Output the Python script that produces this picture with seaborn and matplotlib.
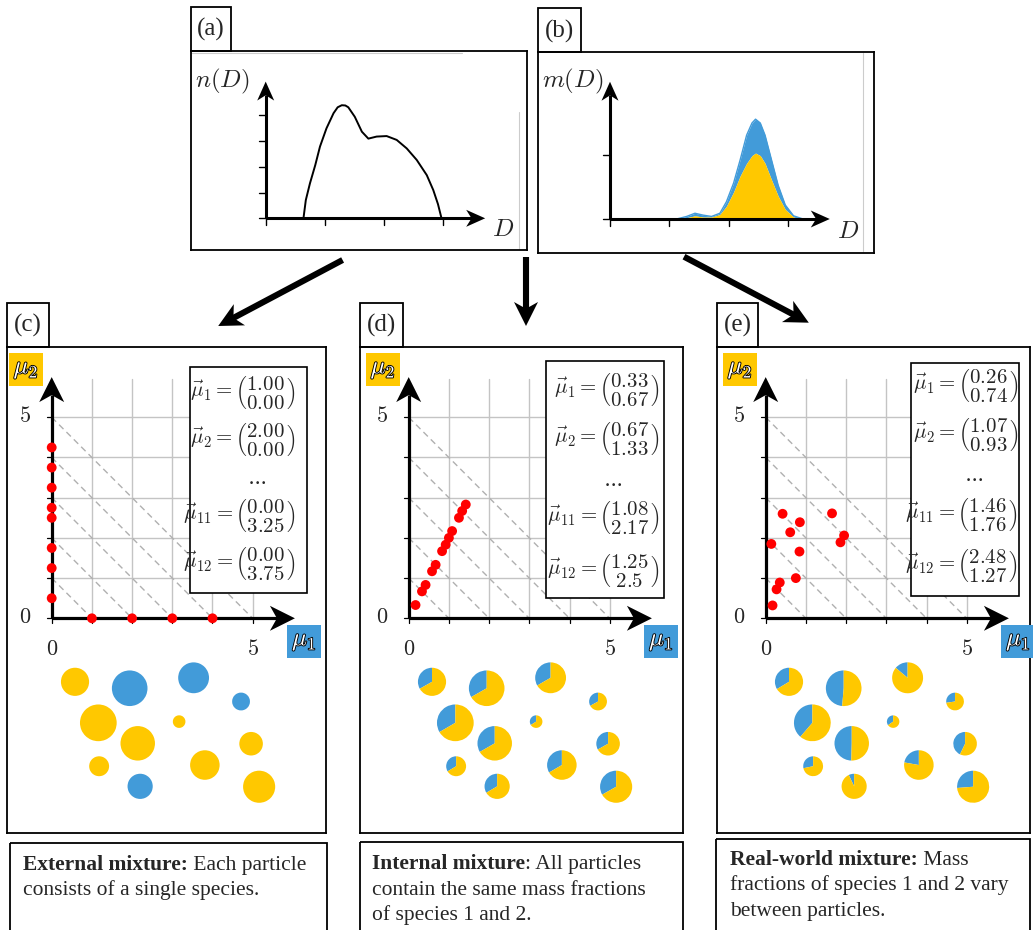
import numpy as np
import matplotlib
matplotlib.use("Agg")
import matplotlib.pyplot as plt
import matplotlib.patheffects as pe
from matplotlib.patches import Rectangle, Polygon, Wedge
import seaborn as sns

sns.set_theme(style="white")
plt.rcParams['font.family'] = ['Liberation Serif', 'DejaVu Serif']
plt.rcParams['mathtext.fontset'] = 'cm'

BLUE = '#429BD9'
YELLOW = '#FFC800'
W, H = 1033, 930

############################################################## Data

# (a) number distribution n(D)
nd_D = [0.64, 0.68, 0.75, 0.84, 0.92, 1.03, 1.15, 1.22, 1.29, 1.35, 1.40, 1.51, 1.63, 1.74,
        1.88, 2.05, 2.22, 2.39, 2.56, 2.73, 2.84, 2.92, 2.98]
nd_n = [0.0, 0.71, 1.36, 2.07, 2.79, 3.50, 4.09, 4.32, 4.40, 4.39, 4.32, 3.95, 3.37, 3.10,
        3.18, 3.20, 3.05, 2.72, 2.27, 1.68, 1.10, 0.55, 0.0]

# (b) mass distribution m(D): total and species 2
md_D = [1.12, 1.29, 1.43, 1.57, 1.71, 1.85, 1.96, 2.08, 2.19, 2.30, 2.39, 2.45,
        2.53, 2.61, 2.72, 2.83, 2.95, 3.09, 3.25]
md_total = [0.0, 0.04, 0.09, 0.06, 0.04, 0.09, 0.27, 0.56, 0.92, 1.31, 1.50, 1.56,
            1.50, 1.31, 0.92, 0.53, 0.22, 0.05, 0.0]
md_species2 = [0.0, 0.02, 0.05, 0.03, 0.03, 0.07, 0.20, 0.42, 0.67, 0.87, 0.99, 1.03,
               0.99, 0.87, 0.61, 0.36, 0.15, 0.03, 0.0]

# particle mass vectors (mu1, mu2), same particle order in every panel
ext_mu1 = [0, 1.0, 0, 0, 2.0, 0, 0, 3.0, 0, 0, 4.0, 0]
ext_mu2 = [0.5, 0, 1.25, 1.75, 0, 2.5, 2.75, 0, 3.25, 3.75, 0, 4.25]
int_mu1 = [0.17, 0.33, 0.42, 0.58, 0.67, 0.83, 0.92, 1.00, 1.08, 1.25, 1.33, 1.42]
int_mu2 = [0.33, 0.67, 0.83, 1.17, 1.33, 1.67, 1.83, 2.00, 2.17, 2.50, 2.67, 2.83]
real_mu1 = [0.17, 0.27, 0.35, 0.75, 0.14, 0.84, 0.61, 0.42, 0.85, 1.86, 1.95, 1.65]
real_mu2 = [0.32, 0.72, 0.89, 1.00, 1.85, 1.66, 2.14, 2.60, 2.39, 1.89, 2.06, 2.61]

ext_rows = [("1", "1.00", "0.00"), ("2", "2.00", "0.00"), ("11", "0.00", "3.25"), ("12", "0.00", "3.75")]
int_rows = [("1", "0.33", "0.67"), ("2", "0.67", "1.33"), ("11", "1.08", "2.17"), ("12", "1.25", "2.5")]
real_rows = [("1", "0.26", "0.74"), ("2", "1.07", "0.93"), ("11", "1.46", "1.76"), ("12", "2.48", "1.27")]

# where the particles sit below each scatter (mu units)
part_x = [3.17, 4.71, 1.18, 4.96, 2.20, 0.58, 3.81, 3.53, 5.16, 2.14, 1.94, 1.16]
part_y = [-2.57, -2.07, -3.68, -3.12, -4.18, -1.58, -3.65, -1.48, -4.19, -3.11, -1.74, -2.60]

############################################################## Helpers

fig = plt.figure(figsize=(W / 100, H / 100), dpi=100)
bg = fig.add_axes([0, 0, 1, 1])
bg.set_xlim(0, W)
bg.set_ylim(H, 0)
bg.axis('off')


def px_axes(box, origin, sx, sy):
    x0, y0, x1, y1 = box
    ax = fig.add_axes([x0 / W, 1 - y1 / H, (x1 - x0) / W, (y1 - y0) / H])
    ax.set_xlim((x0 - origin[0]) / sx, (x1 - origin[0]) / sx)
    ax.set_ylim((origin[1] - y1) / sy, (origin[1] - y0) / sy)
    ax.set_xticks([])
    ax.set_yticks([])
    ax.patch.set_visible(False)
    for s in ax.spines.values():
        s.set_color('black')
        s.set_linewidth(1.3)
    return ax


def arrow(ax, x0, y0, x1, y1, sx=1.0, sy=1.0, lw=2.2, head=20, width=20, zorder=5):
    dx, dy = (x1 - x0) * sx, (y1 - y0) * sy
    L = np.hypot(dx, dy)
    ux, uy = dx / L, dy / L
    nx, ny = -uy, ux
    pts = [(0, 0),
           (-head * ux + width / 2 * nx, -head * uy + width / 2 * ny),
           (-0.72 * head * ux, -0.72 * head * uy),
           (-head * ux - width / 2 * nx, -head * uy - width / 2 * ny)]
    pts = [(x1 + px / sx, y1 + py / sy) for px, py in pts]
    ax.plot([x0, x1 - 0.7 * head * ux / sx], [y0, y1 - 0.7 * head * uy / sy],
            color='black', lw=lw, solid_capstyle='butt', zorder=zorder, clip_on=False)
    ax.add_patch(Polygon(pts, closed=True, facecolor='black', lw=0, zorder=zorder, clip_on=False))


def tab(x0, y0, x1, y1, label):
    bg.add_patch(Rectangle((x0, y0), x1 - x0, y1 - y0, fill=False, ec='black', lw=1.3))
    bg.text((x0 + x1) / 2, (y0 + y1) / 2 + 1, label, ha='center', va='center', fontsize=18)


############################################################## (a) and (b)

tab(191, 6.7, 231, 50.7, "(a)")
tab(538.3, 8.3, 581, 51.7, "(b)")
bg.plot([191, 462], [53.5, 53.5], color='#CCCCCC', lw=0.8)
bg.plot([519, 519], [112, 249], color='#CCCCCC', lw=0.8)
bg.plot([863, 863], [53, 251], color='#CCCCCC', lw=0.8)

sxa, sya = 59.0, 25.7
ax_a = px_axes((191, 50.7, 526.7, 250), (265.7, 218.3), sxa, sya)
sns.lineplot(x=nd_D, y=nd_n, sort=False, estimator=None, color='black', lw=1.4, ax=ax_a, zorder=4)
arrow(ax_a, 0, 0, 0, 5.32, sxa, sya, lw=2.2, head=19, width=17)
arrow(ax_a, 0, 0, 3.72, 0, sxa, sya, lw=2.2, head=19, width=17)
for k in range(0, 5):
    ax_a.plot([0, -7 / sxa], [k, k], color='black', lw=1.0)
for k in range(0, 4):
    ax_a.plot([k, k], [0, -7 / sya], color='black', lw=1.0)
ax_a.text(-0.73, 5.34, r"$n(D)$", ha='center', va='center', fontsize=18)
ax_a.text(4.02, -0.47, r"$D$", ha='center', va='center', fontsize=18)

sxb, syb = 59.4, 64.0
ax_b = px_axes((538.3, 51.7, 874, 252.7), (610, 219), sxb, syb)
ax_b.fill_between(md_D, md_species2, md_total, color=BLUE, lw=0, zorder=2)
ax_b.fill_between(md_D, 0, md_species2, color=YELLOW, lw=0, zorder=3)
sns.lineplot(x=md_D, y=md_total, sort=False, estimator=None, color=BLUE, lw=1.0, ax=ax_b, zorder=2)
arrow(ax_b, 0, 0, 0, 2.145, sxb, syb, lw=2.2, head=19, width=17)
arrow(ax_b, 0, 0, 3.70, 0, sxb, syb, lw=2.2, head=19, width=17)
for k in range(0, 2):
    ax_b.plot([0, -7 / sxb], [k, k], color='black', lw=1.0)
for k in range(0, 4):
    ax_b.plot([k, k], [0, -7 / syb], color='black', lw=1.0)
ax_b.text(-0.62, 2.145, r"$m(D)$", ha='center', va='center', fontsize=18)
ax_b.text(4.01, -0.2, r"$D$", ha='center', va='center', fontsize=18)

############################################################## connecting arrows

arrow(bg, 342.6, 260, 218.2, 326, lw=4.4, head=24, width=24)
arrow(bg, 526, 256.7, 526, 326, lw=4.4, head=24, width=24)
arrow(bg, 684, 256.7, 808.8, 322.7, lw=4.4, head=24, width=24)

############################################################## (c), (d), (e)

S = 40.2


def mixture_panel(box, origin, mu1, mu2, rows, lbox, row_y, right_x):
    ax = px_axes(box, origin, S, S)
    for k in range(1, 6):
        ax.plot([k, k], [0, 5.95], color='#C4C4C4', lw=1.0, zorder=1)
        ax.plot([0, 5.95], [k, k], color='#C4C4C4', lw=1.0, zorder=1)
        ax.plot([0, k], [k, 0], color='#B0B0B0', lw=1.0, ls=(0, (4.5, 3)), zorder=1)
    arrow(ax, 0, 0, 0, 6.0, S, S, lw=2.3, head=25, width=25)
    arrow(ax, 0, 0, 6.05, 0, S, S, lw=2.3, head=25, width=25)
    for k in range(0, 6):
        ax.plot([0, -5 / S], [k, k], color='black', lw=0.9, zorder=5)
        ax.plot([k, k], [0, -5 / S], color='black', lw=0.9, zorder=5)
    for v in (0, 5):
        ax.text(-0.67, v, "$%d$" % v, ha='center', va='center', fontsize=16)
        ax.text(v, -0.79, "$%d$" % v, ha='center', va='center', fontsize=16)
    sns.scatterplot(x=mu1, y=mu2, color='red', s=50, edgecolor='none', ax=ax, zorder=6, legend=False)

    # axis name badges
    ax.add_patch(Rectangle((-1.06, 5.79), 0.84, 0.80, color=YELLOW, lw=0, clip_on=False, zorder=6))
    ax.text(-0.64, 6.19, r"$\mu_2$", ha='center', va='center', fontsize=18, color='white', zorder=7,
            path_effects=[pe.withStroke(linewidth=1.3, foreground='black')])
    ax.add_patch(Rectangle((5.85, -0.98), 0.86, 0.81, color=BLUE, lw=0, clip_on=False, zorder=6))
    ax.text(6.28, -0.575, r"$\mu_1$", ha='center', va='center', fontsize=18, color='white', zorder=7,
            clip_on=False, path_effects=[pe.withStroke(linewidth=1.3, foreground='black')])

    # vector box
    bx0, by0, bx1, by1 = lbox
    ax.add_patch(Rectangle((bx0, by0), bx1 - bx0, by1 - by0, facecolor='white', ec='black', lw=1.2, zorder=7))
    labels = [r"$\vec{\mu}_{%s} = \genfrac{(}{)}{0}{0}{%s}{%s}$" % r for r in rows]
    labels.insert(2, r"$\cdots$")
    for i, (lab, yy) in enumerate(zip(labels, row_y)):
        if i == 2:
            ax.text((bx0 + bx1) / 2 + 0.2, yy, lab, ha='center', va='center', fontsize=15, zorder=8)
        else:
            ax.text(right_x, yy, lab, ha='right', va='center', fontsize=15, zorder=8)

    # particles: area ~ mass, blue wedge = species 1 fraction
    for px, py, a, b in zip(part_x, part_y, mu1, mu2):
        m = a + b
        r = 0.2215 * np.sqrt(m)
        f = a / m
        if f > 0:
            ax.add_patch(Wedge((px, py), r, 90, 90 + 360 * f, facecolor=BLUE, lw=0, zorder=3))
        if f < 1:
            ax.add_patch(Wedge((px, py), r, 90 + 360 * f, 450, facecolor=YELLOW, lw=0, zorder=3))
    return ax


tab(7.3, 303, 49.3, 346.7, "(c)")
tab(360, 302.7, 403, 346.7, "(d)")
tab(717, 302.7, 758, 346.7, "(e)")

mixture_panel((7.3, 346.7, 326, 833), (51.7, 618.3), ext_mu1, ext_mu2, ext_rows,
              (3.44, 0.62, 6.36, 6.26), [5.60, 4.42, 3.40, 2.53, 1.34], 6.06)
mixture_panel((360, 346.7, 683, 833), (408.7, 618.3), int_mu1, int_mu2, int_rows,
              (3.41, 0.50, 6.34, 6.41), [5.68, 4.44, 3.36, 2.49, 1.16], 6.23)
mixture_panel((716.7, 346.7, 1030, 833), (765.7, 618.3), real_mu1, real_mu2, real_rows,
              (3.61, 0.56, 6.31, 6.36), [5.76, 4.56, 3.48, 2.57, 1.28], 6.27)

############################################################## captions

captions = [
    ((10, 842.7, 326.7), 23.3, [870, 895], "External mixture:", " Each particle",
     ["consists of a single species."]),
    ((359.7, 841.7, 683), 372.3, [869.3, 895, 920], "Internal mixture", ": All particles",
     ["contain the same mass fractions", "of species 1 and 2."]),
    ((716, 839.3, 1030), 730, [865, 890, 916], "Real-world mixture:", " Mass",
     ["fractions of species 1 and 2 vary", "between particles."]),
]
for (x0, y0, x1), tx, base, bold, rest, lines in captions:
    bg.add_patch(Rectangle((x0, y0), x1 - x0, 120, fill=False, ec='black', lw=1.3))
    t = bg.text(tx, base[0], bold, fontweight='bold', fontsize=15.5, va='baseline', ha='left')
    bg.annotate(rest, xy=(1, 0), xycoords=t, va='bottom', ha='left', fontsize=15.5)
    for ln, yb in zip(lines, base[1:]):
        bg.text(tx, yb, ln, fontsize=15.5, va='baseline', ha='left')

fig.savefig("out.png", dpi=100)
